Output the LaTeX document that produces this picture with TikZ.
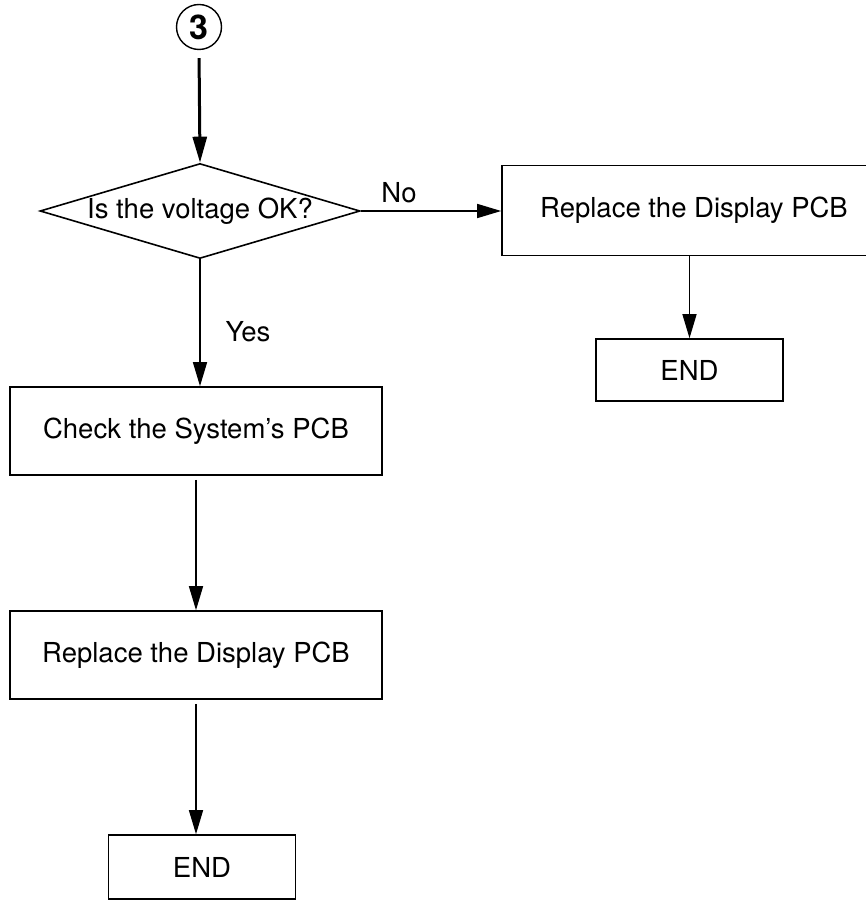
\documentclass[tikz,border=0pt]{standalone}
\usepackage{fontspec}
\setmainfont{TeX Gyre Heros}
\usetikzlibrary{arrows.meta,shapes.geometric,positioning}

\begin{document}
\begin{tikzpicture}[x=1pt,y=-1pt,
    font=\fontsize{27.5}{32}\selectfont,
    box/.style={draw,rectangle,inner sep=0pt,line width=1.6pt},
    decision/.style={draw,diamond,aspect=3.37,inner sep=0pt,line width=1.6pt,
                     minimum width=320pt,minimum height=95pt},
    flow/.style={-{Triangle[length=24pt,width=14pt]},line width=1.4pt}]

  \useasboundingbox (0,0) rectangle (866,901);

  %,  Entry marker
  \node[draw,circle,line width=1.4pt,minimum size=45pt,inner sep=0pt,
        font=\fontsize{34}{38}\bfseries\selectfont] (mark3) at (199,27) {3};

  %,  Decision
  \node[decision] (volt) at (200,211) {Is the voltage OK?};

  %,  No branch
  \node[box,minimum width=384pt,minimum height=90pt] (dispR) at (694,210.5)
    {Replace the Display PCB};
  \node[box,minimum width=187pt,minimum height=62pt] (endR) at (689.5,370) {END};

  %,  Yes branch
  \node[box,minimum width=372pt,minimum height=88pt] (sysP) at (196,431)
    {Check the System’s PCB};
  \node[box,minimum width=372pt,minimum height=88pt] (dispL) at (196,655)
    {Replace the Display PCB};
  \node[box,minimum width=187pt,minimum height=64pt] (endL) at (202,867) {END};

  %,  Labels
  \node (no) at (399,193) {No};
  \node (yes) at (248,332) {Yes};

  %,  Connectors
  \draw[-{Triangle[length=26pt,width=14pt]},line width=3pt,shorten <=8pt]
    (mark3.south) -- (volt.north);
  \draw[flow] (volt.east) -- (volt.east -| dispR.west);
  \draw[flow] (dispR.south -| endR.north) -- (endR.north);
  \draw[flow] (volt.south) -- (volt.south |- sysP.north);
  \draw[flow,shorten <=4pt] (sysP.south) -- (dispL.north);
  \draw[flow,shorten <=4pt] (dispL.south) -- (dispL.south |- endL.north);

\end{tikzpicture}
\end{document}
